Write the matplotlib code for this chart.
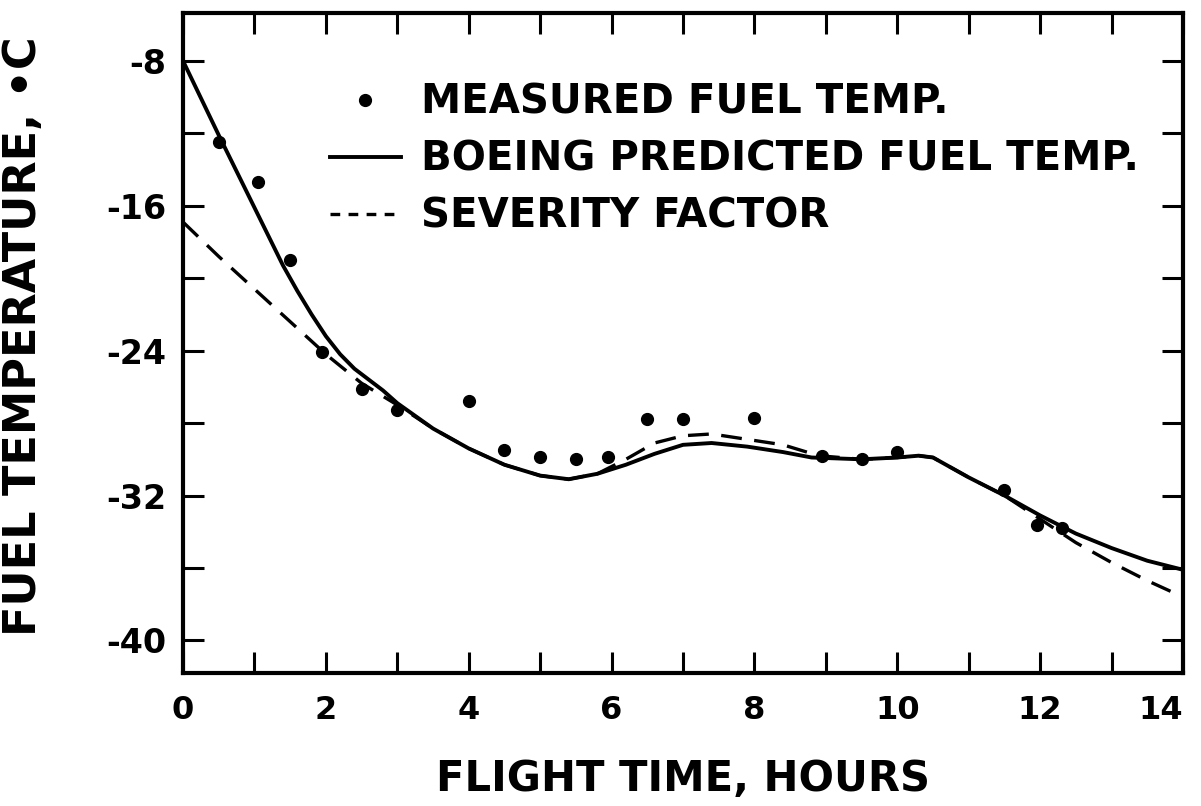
import matplotlib
matplotlib.use("Agg")
import matplotlib.pyplot as plt
from matplotlib.ticker import MultipleLocator

plt.rcParams['font.family'] = ['DejaVu Sans']
plt.rcParams['font.weight'] = 'bold'
plt.rcParams['axes.unicode_minus'] = False
plt.rcParams['lines.scale_dashes'] = False

# measured fuel temperature (dots)
meas_hours = [0.5, 1.05, 1.5, 1.95, 2.5, 3.0, 4.0, 4.5, 5.0, 5.5, 5.95,
              6.5, 7.0, 8.0, 8.95, 9.5, 10.0, 11.5, 11.95, 12.3]
meas_temp = [-12.5, -14.7, -19.0, -24.1, -26.1, -27.3, -26.8, -29.5, -29.9, -30.0, -29.9,
             -27.8, -27.8, -27.7, -29.8, -30.0, -29.6, -31.7, -33.6, -33.8]

# Boeing predicted fuel temperature (solid line)
boeing_hours = [0, 0.5, 1.0, 1.2, 1.4, 1.6, 1.8, 2.0, 2.2, 2.4, 2.6, 2.8, 3.0, 3.5, 4.0,
                4.5, 5.0, 5.4, 5.8, 6.2, 6.6, 7.0, 7.4, 7.9, 8.4, 8.8, 9.5, 10.0, 10.3,
                10.5, 11.0, 11.5, 12.0, 12.5, 13.0, 13.5, 14.0]
boeing_temp = [-8.0, -12.1, -16.1, -17.7, -19.3, -20.7, -22.0, -23.2, -24.2, -25.0, -25.6,
               -26.2, -26.9, -28.3, -29.4, -30.3, -30.9, -31.1, -30.8, -30.3, -29.7, -29.2,
               -29.1, -29.3, -29.6, -29.9, -30.0, -29.9, -29.8, -29.9, -31.0, -32.0, -33.1,
               -34.1, -34.9, -35.6, -36.1]

# severity factor (dashed line)
sev_hours = [0, 0.5, 1.0, 1.5, 2.0, 2.5, 3.0, 3.5, 4.0, 4.5, 5.0, 5.4, 5.8, 6.2, 6.6,
             7.0, 7.4, 7.9, 8.4, 8.9, 9.5, 10.0, 10.3, 10.5, 11.0, 11.5, 12.0, 12.5,
             13.0, 13.5, 14.0]
sev_temp = [-16.9, -18.8, -20.6, -22.4, -24.2, -25.8, -27.0, -28.3, -29.4, -30.3, -30.9,
            -31.1, -30.8, -30.0, -29.1, -28.7, -28.6, -28.9, -29.2, -29.8, -30.0, -29.9,
            -29.8, -29.9, -31.0, -32.0, -33.3, -34.6, -35.7, -36.7, -37.6]

fig, ax = plt.subplots(figsize=(12.01, 8.06), dpi=100)
fig.subplots_adjust(left=0.1524, right=0.985, bottom=0.165, top=0.984)

ax.plot(meas_hours, meas_temp, 'o', color='black', markersize=8.5,
        label='MEASURED FUEL TEMP.')
ax.plot(boeing_hours, boeing_temp, '-', color='black', linewidth=2.8,
        label='BOEING PREDICTED FUEL TEMP.')
ax.plot(sev_hours, sev_temp, color='black', linewidth=2.4, dashes=(15, 9),
        label='SEVERITY FACTOR')

ax.set_xlim(0, 14)
ax.set_ylim(-41.8, -5.35)

ax.xaxis.set_major_locator(MultipleLocator(2))
ax.xaxis.set_minor_locator(MultipleLocator(1))
ax.yaxis.set_major_locator(MultipleLocator(8))
ax.yaxis.set_minor_locator(MultipleLocator(4))
ax.tick_params(which='both', direction='in', length=15, width=2.2,
               top=True, right=True, color='black')
ax.tick_params(axis='y', which='major', labelsize=24, pad=12)
ax.tick_params(axis='x', which='major', labelsize=23, pad=16)
for spine in ax.spines.values():
    spine.set_linewidth(3)

ax.set_xlabel('FLIGHT TIME, HOURS', fontsize=30, fontweight='bold')
ax.set_ylabel('FUEL TEMPERATURE, •C', fontsize=32, fontweight='bold')
ax.xaxis.set_label_coords(0.5, -0.128)
ax.yaxis.set_label_coords(-0.138, 0.51)

handles, labels = ax.get_legend_handles_labels()
leg = ax.legend(handles, labels, loc='upper left', bbox_to_anchor=(0.147, 0.894),
                frameon=False, fontsize=29, handlelength=1.75, handletextpad=0.5,
                labelspacing=0.42, borderpad=0, borderaxespad=0, numpoints=1)
leg.get_lines()[2].set_dashes((7, 6))

# keep the "14" inside the figure
fig.canvas.draw()
for tick in ax.xaxis.get_major_ticks():
    if abs(tick.get_loc() - 14) < 1e-6:
        tick.label1.set_horizontalalignment('right')
        tick.label1.set_x(14.12)

fig.savefig('out.png', dpi=100)
